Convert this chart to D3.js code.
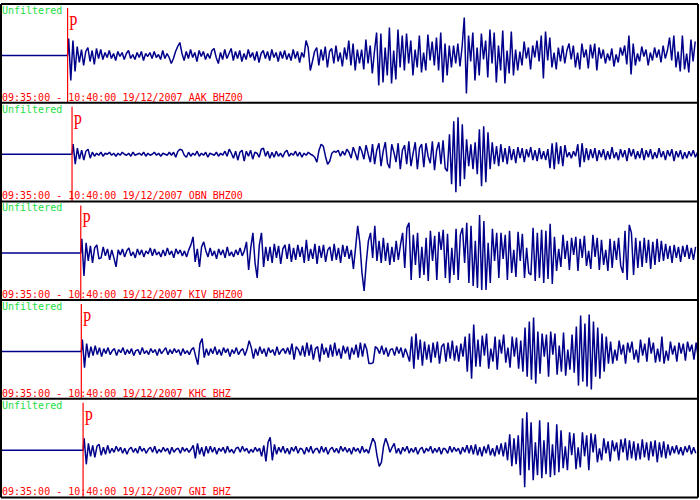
<!DOCTYPE html>
<html>
<head>
<meta charset="utf-8">
<script src="https://cdn.jsdelivr.net/npm/d3@7"></script>
<style>
  body { margin: 0; background: #fff; }
  svg { display: block; }
</style>
</head>
<body>
<div id="chart"></div>
<script>
// stations, top to bottom
const stations = ["AAK BHZ00", "OBN BHZ00", "KIV BHZ00", "KHC BHZ", "GNI BHZ"];
const windowStart = "09:35:00", windowEnd = "10:40:00", recordDate = "19/12/2007";
const windowLength = 3900;          // seconds in the window
const filterLabel = "Unfiltered";
// P arrival, seconds after window start
const pArrivals = [368, 393, 442, 445, 455];
const sampleStep = 12;              // seconds between samples

// ground motion from the P arrival on, one value per sampleStep (scaled counts)
const aak = [
  17, -25, 15, -16,
  9, -7, 6, -10, 4, 8, -6, 5, -9, 7, -3, 6,
  -4, 3, -2, 5, -3, 2, -5, 4, -1, 3, -4, 2, 5, -3, 1, -4, 3, -2, 4, -5, 2, -1, 3, -3, 4, -2, 1, -4, 5, -3, 2, -2,
  -8, -3, 4, 9, 13, 2,
  -5, 4, -3, 6, -2, 3, -6, 5, -1, 4, -4, 2, -3, 5, 7, -2, -8, 3, -4, 6, -3, 2, 7, -5,
  4, -3, 5, -6, 2, -4, 6, -2, 3, -5, 4, -7, 2, 5, -3, 4, -5, 6, -2, 3, -6, 4, -3, 5, -4, 2, -5, 6, -3, 4, -7, 3, -2,
  15, 8, -15, -6, 4,
  8, -10, 6, -5, 9, -12, 4, 7, -8, 10, -6, 3, -11, 8, -4,
  15, -10, 12, -15, 6, -8,
  6, -14, 16, -8, 10, -18, 4, 23, -30,
  22, -27, 8, -20, 28, -28, 5, -24, 26, -12, 20, -15,
  22, -8, 15, -20, 6, -12, 20, -17, 3, -15, 21, -5, 14, -10,
  18, -15, 23, -27, 12, -20, 10,
  -12, 10, -8, 12, -11, 9,
  38, -38,
  20, -6, 23, -25, 8, -20, 22, -4, 15,
  -22, 26, -8, 23, -27, 10, -15, 25, -28, 5, -18, 24, -20, 6,
  -15, 4, -10, 14, -3, 8, -14, 10, -2,
  15, -6, 20, -23, 24, -5, 18, -12, 3, -14,
  8, -6, 10, -8, 5,
  12, -4, 10, -12, 3, -14, 12, -2, 6, -13, 11, -3, 12, -15,
  8, -3, 6, -8, 2, -5, 7, -11, 1, -7, 8, 0, 10, -9,
  20, -19, 12,
  -10, 2, -6, 9, -1, 6, -10, 3, -5, 8, -2, 6, -7, 10, -3, 5,
  18, -5, 20, -12, 4, -16, 20, -14, 2, -17, 16, -6, 14
];
const obn = [
  10, -10,
  6, -5, 4, -6, 3, 5, -4, 2,
  -2, 1, -1, 2, -2, 1, 0, 2, -1, 1, -2, 1, -1, 2, 0, -1, 1, -2, 2, -1, 0, 1, -1, 2, -2, 1, -1, 0, 2, -1, 1, -2, 1, 0, -1, 2, -1,
  2, -3, 3, 5, 4, -1, -3,
  2, -2, 1, -1, 3, -2, 1, -1, 2, -3, 1, 0, -1, 2, -2, 1, -1,
  3, -2, 5, 1, -4, 3, -6, 2, 4, -7, 3, -2, 4, -5, 2, 1, -3, 5, 6, -2, 3, -4, 2, -3,
  3, -2, 1, -3, 2, 4, -2, 1, -1, 3, -2, 2, -3, 1, -1, 2, 0, -1,
  -3, -8,
  4, 10, 8, -2, -10, -7, 1,
  3, 2, 4, -2, 3, -1,
  5, 2, -4, 7, 1, -6, 8, 3, -5, 9, 0, -8, 10, -10, 4, 11, -12, 3, 12, -9, -14, 10, 2, -8,
  11, -15, 4, 9, -10, 13, -12, 1, 12, -15, 6, 10, -13, 11, -2, -9, 13, -16, 4, 12, -10, 14, -14, -17,
  20, -30, 33, -38, 37, -32, 30, -25,
  15, -12, 10, -15, 12,
  -20, 25, -32, 28, -28, 22, -15,
  12, -10, 8, -12, 10, -8, 6, -10,
  8, -6, 5, -9, 7, -4, 6, -8, 5, -3, 7, -6, 4, -7, 6, -5, 3, -6, 5,
  -14, 11, -15, 12, -10, 8, -12, 9,
  -3, 2, -4, 3, -2,
  10, -13, 11, -8, 6,
  -6, 5, -4, 6, -7, 4, -3, 5, -6, 3, -5, 7, -4, 2, -6, 5, -3, 4, -7, 6, -2, 5, -5, 3, -4, 6,
  -6, 4, -3, 5, -5, 2, -4, 6, -3, 3, -6, 4, -2, 5, -7, 3, -3, 4, -5, 2, -4, 3, -2, 4, -3, 2
];
const kiv = [
  14, -23,
  10, -8, 7, -10, 5, 8, -6,
  -5, 6, -3, 4, -7, 3, -5, -14,
  3, -2, 4, -4, 2, 5, -3, 1, -5, 4, -2, 3, -4, 2, -1, 5, -3, 4, -2, 1, -4, 3, -3, 5, -2, 2, -5, 4, -1, 3, -3, 2, -4, 3,
  8, 16, -9, 4, -14, 6, 11, 2,
  -4, 5, -3, 2, -6, 4, -2, 3, -5, 6, -3, 1, -4, 3, -2, 5, -3, 2,
  11, -17, 5,
  20, -10, -25, 8, 20, -14, 6,
  -8, 6, -10, 9, -5, 7, -11, 4, 8, -6, 9, -9, 5, -7, 8, -4, 6, -10, 13, -8,
  4, -6, 9, -11, 7, -5, 8, -9, 3, 6, -8, 9, -7, 5, -10, 8, -4, 7, -6, 3,
  -16, 5, 27, 10, -20, -38, -10, 12,
  20, -5, 27, -8, 12,
  -10, 15, -8, 10, -12, 6, -9, 12, -7, 8,
  20, -15, 25, 30, -27, 18, -12,
  20, -25, 6, -22, 15, -28, 22, -8, 17, -27, 21, 3, 23, -25, 19, -30, 5, -22, 24, -27, 18,
  25, -10, 30, -30, 27, -33, 12, -35, 38, -37, 32, -37, 10, -30, 24, -8, 20,
  -25, 20, -6, 18, -27, 22, -20, 3, -24, 21, -8, 19, -25, 5, -20,
  -22, 25, -28, 20, -25, 23, -30, 22, -26, 29, -31,
  16, -18, 4, -14, 18, -6, 12, -17, 15, -2, 16, -18, 14, -5, 17, -13,
  2, -16, 18, -4, 15, -17, 13, -12, 3, -18, 14, -15, 12, -7, 15, -13,
  -20, 22, -27, 28, 20, -22, 15,
  -15, 12, -14, 15, -10, 13, -16, 11, -12, 14, -9, 12,
  -8, 9, -6, 7, -10, 8, -5, 6, -9, 7, -4, 8, -6, 5, -7, 6
];
const khc = [
  12, -16, 8,
  -6, 5, -4, 6, -3, 4, -5,
  3, -2, 4, -3, 1, 3, -4, 2, -1, 4, -3, 2, -2, 3, -4, 1, 2, -3, 4, -2, 1,
  -3, 3, -1, 2, -4, 3, -2, 1, 4, -3, 2, -2, 3, -1, 2, -4, 3, -2, 1, -3, 2,
  4, -5, -13, 8, 13, -6, 3,
  -4, 3, -2, 5, -3, 2, -4, 4, -1, 3, -5, 2, -2, 4, -3, 1, 3, -4, 2,
  11, 4, -7,
  3, -4, 5, -2, 3, -5, 4, -1, 2, -4, 5, -3, 1, 3, -2, 4, -3,
  8, -8, 5, 2, -4,
  6, -5, 9, -4, 7, -8, 3, 5, -10, 8, -3, 4, -6, 7, -5, 9, -4, 3, -7, 6, -2, 5, -8, 4, -3, 7, -6, 9, -5, 8, 2,
  -12, -12, -11,
  5, 3, -2, 6, -3, 4, -5, 2, 3, -4, 5, -2, 4, -6, 3, -3,
  -10, 15, -17, 18, -8, 12, -14,
  10, -8, 7, -11, 9, -6, 10, -12, 5, 8, -10, 9, -7, 11, -9, 6, -10, 8, -5,
  15, -20, 18, -27, 27, -15, 12,
  -15, 16, -4, 18, -17, 3, -10, 15, -18, 12, -2, 17, -11, 4, -16, 15, -5, 14, -17, 11,
  -20, 24, -25, 30, -28, 34, -32, 20,
  -22, 18, -5, 17, -25, 20, -3, 18, -23, 6, -20, 19, -24, 2, -18, 17, -21,
  25, -34, 36, -30, 28, -35, 37, -38, 30,
  -25, 24, -27, 18, -20, 15, -12,
  10, -12, 2, -9, 11, -3, 7, -12, 9, -1, 10, -8, 2, -11, 12, -4, 8, -10, 14, -2, 9,
  -11, 3, -10, 15, -12, 1, -9, 10, -3, 6, -10, 9, -2, 8, -9, 10, 0, 7, -8, 9, -6
];
const gni = [
  12, -14,
  7, -6, 5, -7, 4, 6, -5, 3, -4, 5,
  -3, 2, -2, 4, -1, 3, -3, 2, -4, 1, 3, -2, 2, -3, 4, -1, 2, -3, 1, 3,
  -2, 4, -3, 1, -2, 3, -1, 2, -4, 3, -2, 1, 2, -3, 3, -1, 2, -2, 1,
  5, -8, 7, -4, 3, -6, 4,
  -3, 4, -2, 3, -4, 2, -1, 3, -3, 4, -2, 1, -3, 2, 3, -2, 4, -1, 2, -3, 1, -2, 3, -1, 2,
  -6, 5, -11, 8, 13, -10, 6, -4,
  3, -2, 4, -3, 2, -4, 3, -1, 4, -3, 2, 1, -4, 3, -2, 4, -3, 1, 2, -3, 4, -2,
  3, -4, 1, 3, -2, 2, -3, 4, -1, 3, -2, 2, -4, 3, -1, 2, -3, 4, -2, 1, -3,
  5, 12, 8, -6, -16, -12, 4, 12, 6,
  -2, 3, 7, -3, 2, -4, 3, -1, 4, -3, 2, -2, 3, -4, 1, 3, -3, 2, -1,
  4, -3, 2, -2, 3, -4, 2, 1, -3, 4, -2, 3, -1, 2, -4, 3, -2, 5, -3,
  5, -4, 6, -5, 3, -6, 4, -3, 6, -5, 2, -6, 5, -4, 7, -6, 8,
  -10, 16, -16, 12, -14, 15,
  -25, 32, -37, 38, -20,
  28, -30, 8, -25, 30, -28, 10, -24, 28, -27, 6, -25, 26, -22, 20,
  -18, 4, -20, 18, -5, 17, -19, 3, -17, 18, -6, 15, -20, 17, -2, 16,
  -12, 2, -10, 12, -3, 9, -11, 10, -1, 8, -10, 11, -2, 12, -10,
  10, -8, 9, -10, 7, -9, 11, -7, 8, -10, 9, -6, 10, -12, 8, -7, 9, -8, 6,
  -5, 4, -3, 5, -4, 3, -5, 4, -2, 5, -4, 3, -3
];
const traces = [aak, obn, kiv, khc, gni];

const width = 700, height = 500;
const frame = {top: 4, bottom: 497.5, left: 1, right: 698};
const panelH = (frame.bottom - frame.top) / stations.length;

const svg = d3.select("#chart")
  .append("svg")
  .attr("width", width)
  .attr("height", height);

// time axis shared by all panels, amplitude axis inside one panel
const x = d3.scaleLinear().domain([0, windowLength]).range([2, 697]);
const y = d3.scaleLinear().domain([-50, 50]).range([101.5, 1.5]);

svg.append("clipPath").attr("id", "clip")
  .append("rect")
  .attr("x", frame.left + 1).attr("y", 0)
  .attr("width", frame.right - frame.left - 2).attr("height", panelH);

const line = d3.line()
  .x(d => x(d.t))
  .y(d => y(d.v));

stations.forEach((name, i) => {
  const p = pArrivals[i];
  const g = svg.append("g")
    .attr("transform", `translate(0,${frame.top + i * panelH})`);

  // quiet part before the P arrival, then the recorded samples
  const pts = [{t: 0, v: 0}, {t: p, v: 0}]
    .concat(traces[i].map((v, k) => ({t: p + (k + 0.5) * sampleStep, v: v})));

  g.append("path")
    .datum(pts)
    .attr("clip-path", "url(#clip)")
    .attr("fill", "none")
    .attr("stroke", "#00008b")
    .attr("stroke-width", 1.5)
    .attr("stroke-linejoin", "bevel")
    .attr("d", line);

  // P marker
  g.append("line")
    .attr("x1", x(p)).attr("x2", x(p))
    .attr("y1", 4).attr("y2", panelH)
    .attr("stroke", "#ff0000")
    .attr("stroke-width", 1.2);
  g.append("text")
    .attr("transform", `translate(${x(p) + 1.5},26) scale(0.72,1)`)
    .attr("font-family", "Liberation Serif, serif")
    .attr("font-size", 21)
    .attr("fill", "#ff0000")
    .text("P");

  g.append("text")
    .attr("x", 2).attr("y", 10)
    .attr("font-family", "DejaVu Sans Mono, monospace")
    .attr("font-size", 10)
    .attr("fill", "#22dd44")
    .text(filterLabel);

  g.append("text")
    .attr("x", 2).attr("y", panelH - 2.2)
    .attr("font-family", "DejaVu Sans Mono, monospace")
    .attr("font-size", 10)
    .attr("fill", "#ff0000")
    .text(`${windowStart} - ${windowEnd} ${recordDate} ${name}`);
});

// panel frames
svg.append("g")
  .selectAll("line")
  .data(d3.range(stations.length + 1))
  .join("line")
  .attr("x1", frame.left).attr("x2", frame.right)
  .attr("y1", i => frame.top + i * panelH)
  .attr("y2", i => frame.top + i * panelH)
  .attr("stroke", "#000")
  .attr("stroke-width", 2);

svg.append("g")
  .selectAll("line")
  .data([frame.left, frame.right])
  .join("line")
  .attr("x1", d => d).attr("x2", d => d)
  .attr("y1", frame.top).attr("y2", frame.bottom)
  .attr("stroke", "#000")
  .attr("stroke-width", 2);
</script>
</body>
</html>
